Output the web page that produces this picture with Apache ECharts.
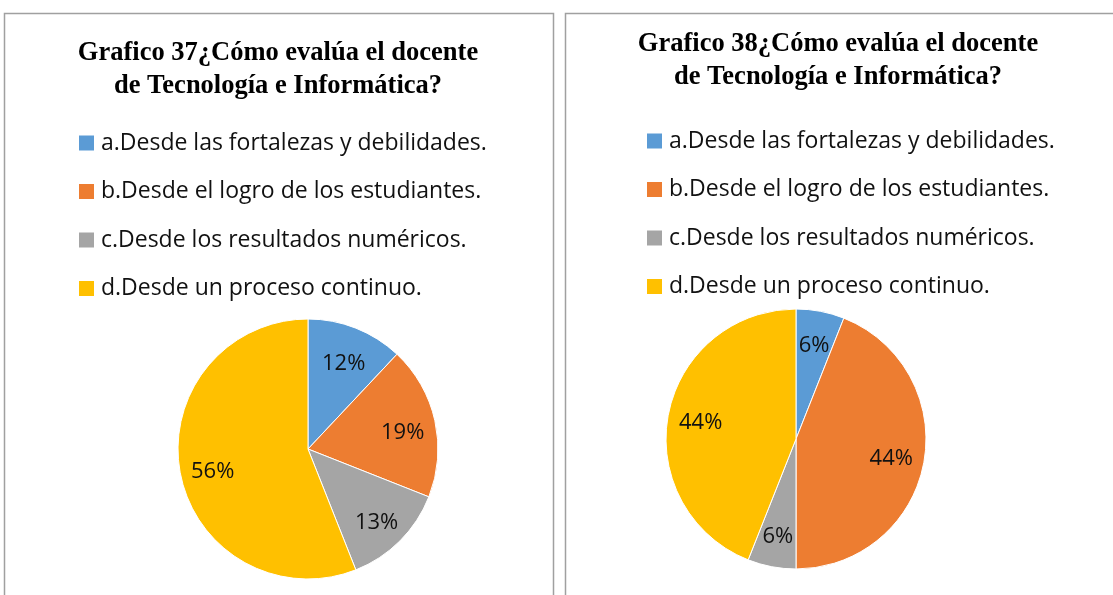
<!DOCTYPE html>
<html>
<head>
<meta charset="utf-8">
<script src="https://cdn.jsdelivr.net/npm/echarts@6/dist/echarts.min.js"></script>
<style>
  html, body { margin: 0; padding: 0; background: #fff; }
  #main { width: 1113px; height: 595px; }
</style>
</head>
<body>
<div id="main"></div>
<script>
// categories and values
var categories = [
    'a.Desde las fortalezas y debilidades.',
    'b.Desde el logro de los estudiantes.',
    'c.Desde los resultados numéricos.',
    'd.Desde un proceso continuo.'
];
var values37 = [12, 19, 13, 56];
var values38 = [6, 44, 6, 44];
var title37 = 'Grafico 37¿Cómo evalúa el docente\nde Tecnología e Informática?';
var title38 = 'Grafico 38¿Cómo evalúa el docente\nde Tecnología e Informática?';
var colors = ['#5B9BD5', '#ED7D31', '#A5A5A5', '#FFC000'];

var myChart = echarts.init(document.getElementById('main'));

function toData(vals) {
    return categories.map(function(name, i) {
        return { name: name, value: vals[i] };
    });
}

var titleStyle = {
    fontFamily: 'Liberation Serif',
    fontWeight: 'bold',
    fontSize: 26.5,
    lineHeight: 33,
    color: '#000'
};

var legendBase = {
    orient: 'vertical',
    icon: 'rect',
    padding: 0,
    itemWidth: 17,
    itemHeight: 17,
    itemGap: 25.5,
    selectedMode: false,
    data: categories,
    textStyle: {
        fontFamily: 'Open Sans',
        fontSize: 23,
        lineHeight: 23,
        color: '#111',
        padding: [0, 0, 0, 1]
    }
};

function pieSeries(vals, center, labelOffset) {
    return [{
        type: 'pie',
        center: center,
        radius: [0, 130],
        startAngle: 90,
        silent: true,
        itemStyle: { borderColor: '#fff', borderWidth: 1 },
        label: { show: false },
        labelLine: { show: false },
        data: toData(vals)
    }, {
        // only carries the labels, placed further out than the default "inside"
        type: 'pie',
        center: center,
        radius: [58, 130],
        startAngle: 90,
        silent: true,
        itemStyle: { color: 'transparent' },
        label: {
            show: true,
            position: 'inside',
            formatter: '{c}%',
            fontFamily: 'Open Sans',
            fontSize: 22,
            color: '#111',
            offset: labelOffset
        },
        labelLine: { show: false },
        data: toData(vals)
    }];
}

var option = {
    color: colors,
    animation: false,
    title: [{
        text: title37,
        left: 273,
        top: 31.5,
        textAlign: 'center',
        textStyle: titleStyle
    }, {
        text: title38,
        left: 833,
        top: 22.5,
        textAlign: 'center',
        textStyle: titleStyle
    }],
    legend: [
        Object.assign({}, legendBase, { left: 77, top: 131.5 }),
        Object.assign({}, legendBase, { left: 645, top: 129.5 })
    ],
    graphic: [{
        type: 'rect',
        shape: { x: 4.5, y: 13.5, width: 549, height: 600 },
        style: { fill: 'none', stroke: '#a0a0a0', lineWidth: 1.5 },
        silent: true
    }, {
        type: 'rect',
        shape: { x: 565.5, y: 13.5, width: 600, height: 600 },
        style: { fill: 'none', stroke: '#a0a0a0', lineWidth: 1.5 },
        silent: true
    }],
    series: pieSeries(values37, [308, 449], [0, 5])
        .concat(pieSeries(values38, [796, 439], [0, 2]))
};

myChart.setOption(option);
</script>
</body>
</html>
